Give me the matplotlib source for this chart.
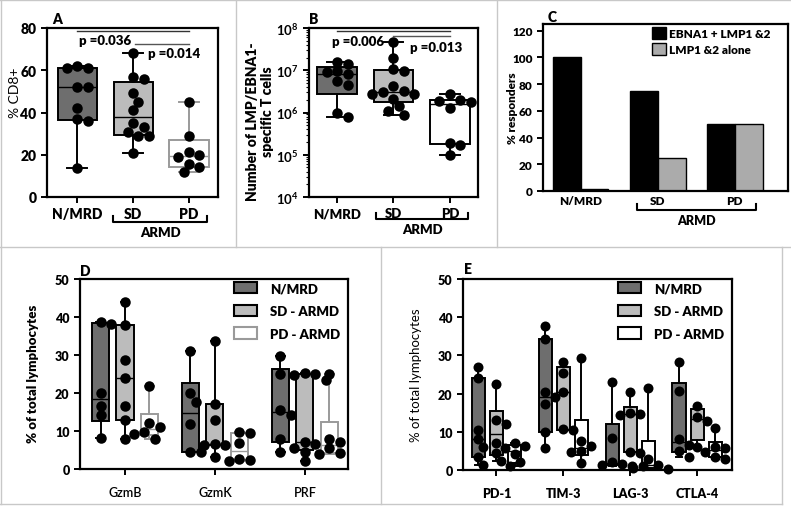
import numpy as np
import matplotlib
matplotlib.use("Agg")
import matplotlib.pyplot as plt
from matplotlib.patches import Patch
from matplotlib.lines import Line2D

plt.rcParams['font.family'] = ['Lato', 'DejaVu Sans']
plt.rcParams['font.weight'] = 'heavy'
plt.rcParams['mathtext.fontset'] = 'custom'
plt.rcParams['mathtext.rm'] = 'Lato'
plt.rcParams['mathtext.bf'] = 'Lato:bold'

# ---------------- data ----------------
groups = ['N/MRD', 'SD', 'PD']

# A: % CD8+
cd8_nmrd = [62, 61, 61, 52, 52, 42, 37, 36, 13.5]
cd8_sd = [68, 57, 56, 49, 45, 41, 35, 33, 31, 29, 29, 21]
cd8_pd = [45, 29, 21.5, 20, 19, 15.5, 14, 12]

# B: number of LMP/EBNA1-specific T cells
tc_nmrd = [1.6e7, 1.4e7, 9.8e6, 8.9e6, 8.1e6, 5.6e6, 4.5e6, 1.0e6, 8e5]
tc_sd = [4.6e7, 2.0e7, 1.05e7, 9.5e6, 4.3e6, 3.3e6, 3.0e6, 2.8e6, 2.7e6, 2.1e6, 1.4e6, 1.1e6, 8.8e5]
tc_pd = [2.8e6, 2.0e6, 1.9e6, 1.8e6, 1.3e6, 1.9e5, 1.7e5, 1.0e5]

# C: % responders
resp_ebna_lmp = [100, 75, 50]
resp_lmp_alone = [1.5, 25, 50]

# D: cytotoxic markers (% of total lymphocytes)
d_markers = ['GzmB', 'GzmK', 'PRF']
d_nmrd = [[38.8, 38.2, 20.0, 16.7, 14.2, 8.2],
          [31.0, 20.0, 17.7, 11.8, 4.6, 4.6],
          [29.8, 25.0, 15.5, 14.3, 8.0, 4.6]]
d_sd = [[44.0, 38.0, 28.8, 24.0, 16.7, 13.0, 8.0],
        [33.8, 17.2, 12.8, 6.5, 6.3, 6.2, 3.2],
        [25.2, 25.0, 24.8, 23.3, 7.0, 6.6, 5.6, 4.6, 2.0]]
d_pd = [[21.8, 12.0, 11.0, 9.8, 9.3, 8.0],
        [9.8, 9.4, 6.8, 2.6, 2.3, 2.2],
        [25.0, 8.0, 7.0, 5.5, 4.2, 4.0]]

# E: checkpoint markers (% of total lymphocytes)
e_markers = ['PD-1', 'TIM-3', 'LAG-3', 'CTLA-4']
e_nmrd = [[27.0, 24.2, 10.6, 8.2, 6.0, 3.3, 1.2],
          [37.8, 34.2, 20.5, 19.0, 17.3, 10.0, 5.8],
          [23.0, 8.3, 2.0, 1.6, 1.3, 1.1],
          [28.2, 20.8, 8.1, 6.5, 5.1, 3.5]]
e_sd = [[22.5, 13.0, 12.0, 7.1, 4.5, 2.3],
        [28.3, 25.5, 20.5, 10.7, 10.5],
        [20.5, 15.0, 14.7, 14.5, 4.8, 4.5],
        [16.8, 13.8, 12.9, 6.1]]
e_pd = [[7.1, 6.3, 5.8, 4.2, 2.0, 1.0],
        [29.3, 7.7, 6.4, 5.0, 4.7, 1.8],
        [21.5, 2.9, 1.4, 1.0, 0.6, 0.3],
        [10.9, 6.0, 5.8, 4.8, 3.5, 3.0]]

legend_labels = ['N/MRD', 'SD - ARMD', 'PD - ARMD']

DARK = '#6e6e6e'
LIGHT = '#bcbcbc'
PDGREY = '#9a9a9a'

W, H = 791, 510
fig = plt.figure(figsize=(W / 100, H / 100), dpi=100)


def fx(x):
    return x / W


def fy(y):
    return 1 - y / H


def add_axes_px(left, top, right, bottom):
    return fig.add_axes([fx(left), fy(bottom), (right - left) / W, (bottom - top) / H])


def box_stats(vals):
    q1, med, q3 = np.percentile(vals, [25, 50, 75], method='weibull')
    return dict(med=med, q1=q1, q3=q3, whislo=min(vals), whishi=max(vals), fliers=[])


def swarm_x(ax, xc, vals, dot_px):
    # simple beeswarm: push points sideways until they stop overlapping
    pts = ax.transData.transform(np.column_stack([np.full(len(vals), xc), vals]))
    placed = []
    offs = []
    for y in pts[:, 1]:
        for k in [0, 1, -1, 2, -2, 3, -3, 4, -4]:
            off = k * dot_px * 0.5
            if all((off - po) ** 2 + (y - py) ** 2 >= (dot_px * 0.85) ** 2 for po, py in placed):
                break
        placed.append((off, y))
        offs.append(off)
    p0 = ax.transData.transform([(0, 1)])[0, 0]
    p1 = ax.transData.transform([(1, 1)])[0, 0]
    return xc + np.array(offs) / (p1 - p0)


def draw_box(ax, vals, pos, width, face, edge, dot_px, lw=1.4):
    ax.bxp([box_stats(vals)], positions=[pos], widths=width, patch_artist=True,
           showfliers=False, manage_ticks=False, zorder=2,
           boxprops=dict(facecolor=face, edgecolor=edge, linewidth=lw),
           whiskerprops=dict(color=edge, linewidth=lw),
           capprops=dict(color=edge, linewidth=lw),
           medianprops=dict(color=edge, linewidth=1.0))
    xs = swarm_x(ax, pos, vals, dot_px)
    ax.plot(xs, vals, 'o', color='black', ms=dot_px * 0.72, mew=0, zorder=3, clip_on=False)


def style_axes(ax, tick_fs):
    for s in ax.spines.values():
        s.set_linewidth(1.6)
    ax.tick_params(direction='out', length=4, width=1.4, labelsize=tick_fs)


def bracket(x0, x1, y, text, fs=9.5):
    fig.add_artist(Line2D([fx(x0), fx(x0), fx(x1), fx(x1)],
                          [fy(y - 6), fy(y), fy(y), fy(y - 6)], color='black', lw=1.5))
    fig.text(fx((x0 + x1) / 2), fy(y + 10), text, ha='center', va='center', fontsize=fs)


# ---------------- panel borders ----------------
border = '#c8c8c8'
for xs_, ys_ in [([0, 791], [1, 1]), ([1, 1], [0, 505]), ([236, 236], [0, 248]),
                 ([497, 497], [0, 248]), ([0, 791], [248, 248]), ([381, 381], [248, 505]),
                 ([0, 782], [505, 505]), ([782, 782], [248, 505])]:
    fig.add_artist(Line2D([fx(v) for v in xs_], [fy(v) for v in ys_], color=border, lw=1))

# ---------------- A ----------------
axA = add_axes_px(47, 29, 218, 198)
axA.set_xlim(-0.54, 2.52)
axA.set_ylim(0, 80)
axA.set_yticks([0, 20, 40, 60, 80])
draw_box(axA, cd8_nmrd, 0, 0.7, DARK, 'black', 10.5)
draw_box(axA, cd8_sd, 1, 0.7, LIGHT, 'black', 10.5)
draw_box(axA, cd8_pd, 2, 0.7, 'white', PDGREY, 10.5)
axA.set_xticks([0, 1, 2])
axA.set_xticklabels(groups, fontsize=10)
style_axes(axA, 10)
axA.plot([0, 2], [78.5, 78.5], color='#333333', lw=1)
axA.plot([1.04, 2], [72.5, 72.5], color='#555555', lw=1)
axA.text(0.04, 74.2, 'p =0.036', fontsize=9.5, va='center')
axA.text(1.27, 68.2, 'p =0.014', fontsize=9.5, va='center')
fig.text(fx(15), fy(93), '% CD8+', rotation=90, ha='center', va='center', fontsize=10,
         fontweight='normal')
fig.text(fx(52), fy(20), 'A', fontsize=10, va='center')
bracket(113, 207, 223, 'ARMD')

# ---------------- B ----------------
axB = add_axes_px(309, 29, 478, 198)
axB.set_yscale('log')
axB.set_xlim(-0.5, 2.5)
axB.set_ylim(1e4, 1e8)
draw_box(axB, tc_nmrd, 0, 0.7, DARK, 'black', 10.5)
draw_box(axB, tc_sd, 1, 0.7, LIGHT, 'black', 10.5)
draw_box(axB, tc_pd, 2, 0.7, 'white', 'black', 10.5)
axB.set_xticks([0, 1, 2])
axB.set_xticklabels(groups, fontsize=10)
axB.set_yticks([1e4, 1e5, 1e6, 1e7, 1e8])
axB.set_yticklabels([r'$\mathbf{10^{%d}}$' % k for k in range(4, 9)])
style_axes(axB, 9.5)
axB.tick_params(axis='y', which='minor', length=2, width=0.8)
axB.tick_params(axis='x', which='minor', length=0)
axB.plot([0, 2], [8.5e7, 8.5e7], color='#333333', lw=1)
axB.plot([1, 2], [6.5e7, 6.5e7], color='#555555', lw=1)
axB.text(-0.1, 5.0e7, 'p =0.006', fontsize=9.5, va='center')
axB.text(1.29, 3.6e7, 'p =0.013', fontsize=9.5, va='center')
fig.text(fx(253), fy(122), 'Number of LMP/EBNA1-', rotation=90, ha='center', va='center',
         fontsize=10)
fig.text(fx(268), fy(112), 'specific T cells', rotation=90, ha='center', va='center',
         fontsize=10)
fig.text(fx(309), fy(19), 'B', fontsize=10, va='center')
bracket(376, 468, 220, 'ARMD')

# ---------------- C ----------------
axC = add_axes_px(543, 25, 788, 192)
xc = np.arange(len(groups))
bw = 0.36
axC.bar(xc - bw / 2, resp_ebna_lmp, bw, color='black', edgecolor='black', lw=1,
        label='EBNA1 + LMP1 &2')
axC.bar(xc + bw / 2, resp_lmp_alone, bw, color='#ababab', edgecolor='black', lw=1,
        label='LMP1 &2 alone')
axC.set_xlim(-0.49, 2.69)
axC.set_ylim(0, 125)
axC.set_yticks(range(0, 121, 20))
axC.set_xticks(xc)
axC.set_xticklabels(groups, fontsize=9)
style_axes(axC, 8.5)
axC.tick_params(axis='x', length=0, pad=3)
axC.legend(loc='upper left', bbox_to_anchor=(0.445, 0.985), frameon=False, borderpad=0,
           borderaxespad=0, handlelength=1.2, handleheight=1.2, handletextpad=0.25,
           labelspacing=0.35, prop=dict(size=8.5, weight='heavy'))
fig.text(fx(513), fy(108), '% responders', rotation=90, ha='center', va='center',
         fontsize=8.5)
fig.text(fx(548), fy(17), 'C', fontsize=10, va='center')
bracket(637, 756, 211, 'ARMD', fs=9)

# ---------------- D ----------------
axD = add_axes_px(80, 280, 348, 470)
axD.set_xlim(-0.5, 2.48)
axD.set_ylim(0, 50)
off_d, w_d = 0.272, 0.19
for i in range(len(d_markers)):
    draw_box(axD, d_nmrd[i], i - off_d, w_d, DARK, 'black', 10.5)
    draw_box(axD, d_sd[i], i, w_d, LIGHT, 'black', 10.5)
    draw_box(axD, d_pd[i], i + off_d, w_d, 'white', PDGREY, 10.5)
axD.set_xticks(range(len(d_markers)))
axD.set_xticklabels(d_markers, fontsize=9, fontweight='semibold')
style_axes(axD, 9)
axD.tick_params(axis='x', pad=8)
handles_d = [Patch(facecolor=DARK, edgecolor='black', lw=1.5),
             Patch(facecolor=LIGHT, edgecolor='black', lw=1.5),
             Patch(facecolor='white', edgecolor=PDGREY, lw=1.5)]
axD.legend(handles_d, legend_labels, loc='upper left', bbox_to_anchor=(0.575, 0.985),
           frameon=False, borderpad=0, borderaxespad=0, handlelength=1.75,
           handleheight=0.95, handletextpad=1.0, labelspacing=0.8,
           prop=dict(size=9.5, weight='heavy'))
fig.text(fx(33), fy(374), '% of total lymphocytes', rotation=90, ha='center', va='center',
         fontsize=9.5)
fig.text(fx(80), fy(272), 'D', fontsize=10, va='center')

# ---------------- E ----------------
axE = add_axes_px(463, 280, 732, 471)
axE.set_xlim(-0.5, 3.52)
axE.set_ylim(0, 50)
off_e, w_e = 0.27, 0.2
for i in range(len(e_markers)):
    draw_box(axE, e_nmrd[i], i - off_e, w_e, DARK, 'black', 10)
    draw_box(axE, e_sd[i], i, w_e, LIGHT, 'black', 10)
    draw_box(axE, e_pd[i], i + off_e, w_e, 'white', 'black', 10)
axE.set_xticks(range(len(e_markers)))
axE.set_xticklabels(e_markers, fontsize=9)
style_axes(axE, 9)
axE.tick_params(axis='x', pad=8)
handles_e = [Patch(facecolor=DARK, edgecolor='black', lw=1.5),
             Patch(facecolor=LIGHT, edgecolor='black', lw=1.5),
             Patch(facecolor='white', edgecolor='black', lw=1.5)]
axE.legend(handles_e, legend_labels, loc='upper left', bbox_to_anchor=(0.575, 0.985),
           frameon=False, borderpad=0, borderaxespad=0, handlelength=1.75,
           handleheight=0.95, handletextpad=1.0, labelspacing=0.8,
           prop=dict(size=9.5, weight='heavy'))
fig.text(fx(416), fy(375), '% of total lymphocytes', rotation=90, ha='center', va='center',
         fontsize=9.5, fontweight='normal')
fig.text(fx(464), fy(269), 'E', fontsize=10, va='center')

fig.savefig('out.png', dpi=100)
